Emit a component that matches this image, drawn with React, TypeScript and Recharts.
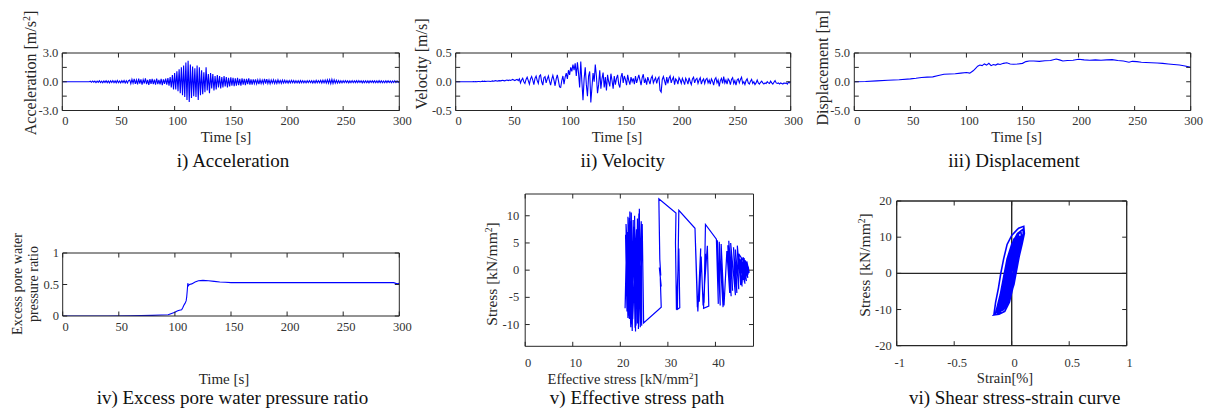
import React from 'react';
import { LineChart, Line, XAxis, YAxis, ReferenceLine } from 'recharts';

const FONT = '"Liberation Serif", "Times New Roman", serif';
const BLUE = '#0000ff';
const INK = '#262626';

// i) acceleration [m/s2], one sample per second, t = 0..300 s
const accStep = 1;
const accValues = [
  0, 0, 0, 0, 0, 0, 0, 0, 0, 0,
  0, 0, 0, 0, 0, 0, 0, 0, 0, 0,
  0, 0, 0, 0, 0, 0.05, -0.06, 0.08, -0.05, 0.07,
  -0.09, 0.06, -0.07, 0.1, -0.08, 0.06, -0.1, 0.09, -0.07, 0.11,
  -0.09, 0.08, -0.12, 0.1, -0.08, 0.12, -0.1, 0.09, -0.11, 0.13,
  -0.1, 0.08, -0.12, 0.11, -0.09, 0.14, -0.12, 0.1, -0.13, 0.12,
  0.18, -0.2, 0.25, -0.15, 0.3, -0.22, 0.2, -0.28, 0.32, -0.2,
  0.24, -0.3, 0.22, -0.18, 0.35, -0.25, 0.2, -0.32, 0.28, -0.22,
  0.3, -0.26, 0.22, -0.3, 0.34, -0.24, 0.2, -0.28, 0.3, -0.35,
  0.26, -0.22, 0.32, -0.3, 0.38, -0.4, 0.5, -0.6, 0.7, -0.8,
  0.9, -0.8, 1.1, -1.0, 1.3, -1.2, 1.5, -1.4, 1.7, -1.6,
  2.0, -1.9, 2.2, -2.1, 1.8, -1.7, 1.6, -1.5, 1.4, -1.6,
  1.7, -1.9, 1.5, -1.4, 1.2, -1.3, 1.0, -1.1, 1.5, -0.9,
  0.8, -1.2, 0.9, -0.7, 0.8, -0.9, 0.6, -0.8, 0.7, -0.6,
  0.6, -0.7, 0.5, -0.6, 0.6, -0.5, 0.5, -0.6, 0.4, -0.5,
  0.45, -0.4, 0.4, -0.45, 0.35, -0.4, 0.4, -0.35, 0.3, -0.4,
  0.35, -0.3, 0.3, -0.35, 0.3, -0.25, 0.35, -0.3, 0.25, -0.3,
  0.25, -0.2, 0.25, -0.22, 0.2, -0.25, 0.22, -0.2, 0.18, -0.2,
  0.3, -0.2, 0.28, -0.18, 0.2, -0.22, 0.18, -0.15, 0.2, -0.18,
  0.15, -0.18, 0.2, -0.15, 0.14, -0.16, 0.18, -0.14, 0.15, -0.13,
  0.12, -0.14, 0.13, -0.12, 0.15, -0.11, 0.12, -0.13, 0.1, -0.12,
  0.11, -0.12, 0.13, -0.1, 0.12, -0.11, 0.1, -0.12, 0.11, -0.1,
  0.12, -0.1, 0.11, -0.13, 0.1, -0.12, 0.14, -0.1, 0.12, -0.11,
  0.15, -0.13, 0.16, -0.12, 0.18, -0.15, 0.2, -0.16, 0.22, -0.2,
  0.25, -0.18, 0.2, -0.15, 0.16, -0.14, 0.12, -0.13, 0.1, -0.12,
  0.11, -0.1, 0.12, -0.09, 0.1, -0.11, 0.09, -0.1, 0.12, -0.1,
  0.1, -0.09, 0.11, -0.1, 0.12, -0.08, 0.1, -0.11, 0.09, -0.1,
  0.1, -0.1, 0.09, -0.11, 0.1, -0.08, 0.11, -0.09, 0.1, -0.1,
  0.09, -0.1, 0.11, -0.09, 0.1, -0.1, 0.08, -0.1, 0.1, -0.09,
  0.1, -0.08, 0.09, -0.1, 0.08, -0.09, 0.1, -0.08, 0.09, -0.07,
  0.05,
];

// ii) velocity [m/s], one sample per second, t = 0..300 s
const velStep = 1;
const velValues = [
  0, 0, 0, 0, 0, 0, 0, 0, 0, 0,
  0, 0, 0, 0, 0, 0, 0.005, 0, 0.005, 0,
  0.005, 0.005, 0, 0.005, 0.01, 0.005, 0.01, 0.005, 0.01, 0.01,
  0.01, 0.005, 0.01, 0.015, 0.01, 0.015, 0.02, 0.01, 0.015, 0.02,
  0.015, 0.02, 0.025, 0.02, 0.015, 0.025, 0.03, 0.02, 0.03, 0.025,
  0.03, 0.04, 0.03, 0.02, 0.035, 0.04, 0.02, 0.05, -0.02, 0.03,
  0.06, 0.0, -0.03, 0.04, 0.08, 0.02, -0.04, 0.05, 0.09, 0.03,
  -0.05, 0.06, 0.1, 0.02, -0.03, 0.1, 0.12, 0.0, -0.06, 0.07,
  0.09, -0.02, 0.05, 0.1, 0.01, -0.06, 0.04, 0.11, 0.03, -0.07,
  0.05, 0.12, 0.02, -0.09, -0.1, 0.02, 0.1, -0.04, 0.08, 0.15,
  0.05, 0.2, 0.12, 0.25, 0.18, 0.3, 0.2, 0.32, 0.1, 0.34,
  0.15, -0.1, 0.35, 0.0, -0.32, 0.05, 0.25, -0.05, -0.25, 0.1,
  0.18, -0.36, -0.1, 0.15, 0.0, 0.3, 0.1, -0.2, -0.05, 0.2,
  -0.12, 0.05, 0.16, -0.1, 0.08, -0.15, 0.12, 0.0, -0.08, 0.14,
  0.02, -0.12, 0.1, -0.05, 0.06, 0.12, -0.04, -0.1, 0.08, 0.15,
  -0.02, 0.1, 0.04, -0.06, 0.12, 0.02, -0.05, 0.08, 0.0, 0.06,
  -0.04, 0.1, -0.02, 0.05, 0.12, 0.03, -0.06, 0.07, 0.13, -0.02,
  0.04, -0.05, 0.08, 0.02, -0.04, 0.06, 0.1, -0.02, 0.03, 0.07,
  -0.03, 0.05, 0.08, -0.15, -0.18, 0.04, 0.09, 0.02, -0.06, 0.08,
  -0.03, 0.06, 0.1, -0.02, 0.04, 0.08, -0.05, 0.05, 0.02, -0.04,
  0.07, 0.03, -0.03, 0.06, 0.01, -0.05, 0.06, 0.02, -0.04, 0.07,
  0.0, -0.05, 0.05, 0.08, -0.02, 0.04, 0.06, -0.03, 0.03, 0.07,
  -0.04, 0.02, 0.05, -0.03, 0.04, 0.06, -0.02, 0.03, -0.04, 0.05,
  0.01, -0.06, 0.04, 0.07, -0.02, 0.03, -0.08, 0.02, 0.06, -0.03,
  0.09, -0.02, 0.03, -0.04, 0.05, 0.02, -0.05, 0.04, 0.07, -0.03,
  0.02, -0.06, 0.03, 0.05, -0.02, 0.04, 0.08, -0.03, 0.0, -0.05,
  0.02, 0.05, -0.02, -0.04, 0.01, 0.04, -0.03, 0.0, -0.05, -0.02,
  0.03, -0.02, -0.04, -0.01, 0.01, -0.02, -0.04, -0.02, -0.03, 0.0,
  -0.02, -0.03, 0.01, -0.02, -0.04, -0.01, 0.02, -0.02, -0.03, -0.02,
  -0.04, -0.02, -0.03, -0.04, -0.02, -0.03, -0.02, -0.04, -0.01, -0.02,
  0.0,
];

// iii) displacement [m]
const dispTimes = [
  0, 10, 20, 30, 40, 50, 55, 60, 65, 70, 75, 80, 85, 90, 95, 100,
  103, 106, 108, 110, 112, 114, 116, 118, 120, 122, 124, 126, 128, 130,
  133, 136, 139, 142, 146, 150, 153, 156, 160, 165, 170, 175, 180,
  183, 186, 190, 195, 200, 205, 210, 215, 220, 225, 230, 235, 240,
  245, 248, 252, 256, 260, 265, 270, 275, 280, 285, 290, 295, 300,
];
const dispValues = [
  0, 0.05, 0.15, 0.25, 0.35, 0.5, 0.6, 0.75, 0.8, 0.85, 1.1, 1.3, 1.35, 1.4, 1.5, 1.6,
  1.5, 1.9, 2.3, 2.7, 2.9, 2.8, 3.1, 2.9, 3.2, 2.8, 3.0, 2.9, 3.1, 3.0,
  3.2, 3.3, 3.1, 3.05, 3.1, 3.2, 3.5, 3.6, 3.6, 3.55, 3.65, 3.7, 3.95,
  3.8, 3.6, 3.7, 3.75, 3.9, 3.8, 3.75, 3.8, 3.75, 3.8, 3.85, 3.7, 3.6,
  3.4, 3.55, 3.5, 3.4, 3.35, 3.3, 3.25, 3.2, 3.1, 3.0, 2.9, 2.75, 2.5,
];

// iv) excess pore water pressure ratio
const poreTimes = [
  0, 20, 40, 60, 70, 80, 88, 94, 97, 100,
  102, 104, 106, 107, 108, 109, 110, 110.5, 111, 111.5,
  112, 113, 115, 118, 121, 125, 130, 135, 140, 145,
  150, 200, 250, 295, 298, 300,
];
const poreValues = [
  0, 0, 0, 0.003, 0.006, 0.01, 0.015, 0.02, 0.04, 0.06,
  0.08, 0.09, 0.1, 0.13, 0.17, 0.2, 0.24, 0.3, 0.4, 0.52,
  0.48, 0.5, 0.51, 0.54, 0.56, 0.565, 0.56, 0.55, 0.54, 0.535,
  0.53, 0.53, 0.53, 0.53, 0.51, 0.52,
];

// v) effective stress path: [effective stress, shear stress] in kN/mm2
const stressPath: [number, number][] = [
  [47.0, 0.0], [46.6, 1.2], [46.9, -0.8], [46.3, 1.8], [46.8, -1.4], [46.0, 2.2], [46.5, -2.0],
  [45.7, 1.6], [46.2, -2.5], [45.4, 2.3], [45.9, -1.8], [45.2, 2.0], [45.6, -3.0], [44.9, 3.0],
  [46.4, 1.0], [46.7, -1.2], [45.8, 2.4], [46.1, -2.2], [45.5, 1.4], [46.9, 0.6], [47.1, -0.5],
  [46.6, 1.6], [46.3, -1.7], [45.9, 1.9], [45.6, -2.4], [45.3, -2.6], [44.6, 4.5], [44.9, -3.5],
  [44.2, 3.8], [44.5, -4.2], [43.8, 4.2], [44.2, -4.6], [43.2, 5.0], [43.6, -3.8], [42.8, 5.4],
  [43.3, -4.8], [42.6, 4.6], [43.0, -4.2], [42.4, 3.5], [41.8, -6.5], [41.2, 4.8], [41.6, -6.8],
  [40.8, 5.2], [41.0, -6.5], [40.4, 5.5], [40.6, -6.2], [40.2, 5.7], [37.9, 8.4], [37.6, -6.0],
  [37.9, 3.0], [37.5, -7.0], [38.6, -6.6], [38.3, 4.5], [37.4, -6.5], [37.0, 2.5], [36.6, -5.8],
  [36.9, 4.0], [36.3, -7.6], [35.8, 5.0], [36.2, -6.8], [35.7, 7.7], [32.3, 11.0], [32.0, -7.2],
  [32.5, -6.9], [32.3, 4.0], [31.8, -7.3], [31.6, 5.0], [31.7, 10.5], [28.1, 13.1], [28.3, 2.0],
  [28.5, -1.0], [28.2, 0.5], [28.6, -3.0], [28.4, -1.5], [28.6, -6.8], [24.9, -9.7], [24.6, 8.5],
  [24.2, -10.5], [24.0, 11.3], [23.8, -10.8], [24.4, 9.0], [24.5, -10.2], [23.9, 10.4], [23.6, -9.8],
  [23.6, 9.5], [23.3, -10.2], [23.0, 10.0], [23.2, -11.3], [22.8, 8.0], [22.5, -11.2], [22.3, 10.6],
  [22.6, -9.0], [23.4, 7.5], [23.1, -10.6], [22.7, 9.2], [22.4, -10.0], [22.0, 10.8], [21.9, -9.0],
  [21.6, 9.8], [21.8, -8.4], [22.1, 9.0], [22.3, -9.6], [21.2, 8.5], [21.4, -7.6], [21.1, 6.5],
  [21.6, -8.8], [21.9, 9.6], [22.2, -10.5], [21.5, 7.0], [21.0, -7.0], [21.3, 5.0], [21.7, -6.0],
  [22.0, 4.0], [21.5, -3.0], [21.8, 2.0], [22.0, 0.5],
];

// vi) shear stress-strain loops: [strain %, stress kN/mm2]
const stressStrain: [number, number][] = [
  [-0.155, -11.5], [-0.14, -8], [-0.115, -4], [-0.095, 0], [-0.07, 4], [-0.04, 8], [0.0, 10.5],
  [0.06, 12.5], [0.105, 13.0], [0.11, 11], [0.09, 8], [0.06, 4], [0.035, 0], [0.01, -4],
  [-0.02, -8], [-0.06, -10.5], [-0.11, -11.3], [-0.155, -11.5],
  [-0.14, -11], [-0.1, -6], [-0.07, -1], [-0.04, 4], [0.0, 8], [0.05, 11], [0.1, 12.2], [0.1, 10],
  [0.08, 7], [0.05, 3], [0.02, -2], [-0.02, -7], [-0.07, -10], [-0.14, -11],
  [-0.13, -10.5], [-0.09, -5], [-0.06, 0], [-0.03, 5], [0.02, 9.5], [0.08, 11.5], [0.09, 9],
  [0.06, 4], [0.03, -1], [0.0, -5], [-0.05, -9], [-0.13, -10.5],
  [-0.12, -10], [-0.085, -5.5], [-0.055, -0.5], [-0.025, 4.5], [0.015, 8.5], [0.06, 10.5], [0.075, 8.5],
  [0.05, 4], [0.025, -0.5], [-0.005, -5], [-0.06, -9], [-0.12, -10],
  [-0.11, -10], [-0.07, -5], [-0.045, 0], [-0.02, 5], [0.02, 8.5], [0.07, 10], [0.06, 6],
  [0.04, 2], [0.01, -3], [-0.03, -7], [-0.11, -10],
  [-0.105, -11], [-0.075, -7], [-0.05, -2], [-0.02, 3], [0.01, 7], [0.05, 9], [0.055, 6.5],
  [0.035, 2.5], [0.005, -2.5], [-0.03, -7], [-0.105, -11],
  [-0.1, -9], [-0.06, -4], [-0.035, 1], [-0.01, 5], [0.03, 8], [0.065, 9], [0.05, 5],
  [0.02, 0], [-0.01, -4], [-0.05, -7.5], [-0.1, -9],
  [-0.1, -10.5], [-0.06, -6], [-0.03, -2], [0.0, 2], [0.04, 7], [0.08, 10], [0.085, 8],
  [0.055, 3], [0.02, -3], [-0.03, -8], [-0.1, -10.5],
  [-0.095, -9.5], [-0.065, -5.5], [-0.04, -1], [-0.015, 3.5], [0.02, 7], [0.045, 7.5], [0.03, 3.5],
  [0.01, -1], [-0.02, -5], [-0.095, -9.5],
  [-0.09, -8], [-0.05, -3], [-0.025, 1.5], [0.0, 6], [0.04, 8.5], [0.06, 7], [0.03, 2],
  [0.0, -2], [-0.04, -6], [-0.09, -8],
  [-0.08, -10], [-0.04, -4], [-0.02, 0], [0.01, 5], [0.05, 9.5], [0.07, 8], [0.04, 3],
  [0.02, -1], [-0.02, -6], [-0.08, -10],
  [-0.12, -11], [-0.08, -6], [-0.05, -1], [-0.02, 4], [0.03, 9], [0.09, 10.5], [0.07, 6],
  [0.04, 1], [0.01, -4], [-0.04, -9], [-0.12, -11],
  [-0.075, -8.5], [-0.045, -4], [-0.02, 0.5], [0.005, 4.5], [0.035, 7], [0.04, 4.5], [0.015, 0.5],
  [-0.015, -4], [-0.075, -8.5],
  [-0.06, -7], [-0.03, -2], [0.0, 3], [0.03, 7], [0.05, 6], [0.03, 1], [0.0, -3], [-0.06, -7],
  [-0.065, -6], [-0.035, -1], [-0.01, 3], [0.02, 5.5], [0.03, 3], [0.005, -1.5], [-0.065, -6],
  [-0.05, -5], [-0.02, 0], [0.01, 4], [0.04, 6], [0.02, 1], [-0.01, -3], [-0.05, -5],
  [-0.04, -4], [-0.015, 0], [0.01, 2.5], [0.015, 0.5], [-0.04, -4],
  [-0.085, -9], [-0.055, -5], [-0.03, -0.5], [-0.005, 3.5], [0.025, 6.5], [0.05, 8], [0.045, 5.5],
  [0.02, 1.5], [-0.005, -2.5], [-0.045, -7], [-0.085, -9],
  [-0.07, -9.5], [-0.04, -5.5], [-0.015, -1.5], [0.015, 3], [0.045, 7.5], [0.06, 9.5], [0.055, 6.5],
  [0.035, 2.5], [0.005, -2], [-0.03, -6.5], [-0.07, -9.5],
];

const timeTicks = [0, 50, 100, 150, 200, 250, 300];
const accTicks = [-3, -1.5, 0, 1.5, 3];
const velTicks = [-0.5, -0.25, 0, 0.25, 0.5];
const dispTicks = [-5, -2.5, 0, 2.5, 5];
const poreTicks = [0, 0.5, 1];
const effTicks = [0, 10, 20, 30, 40];
const shearTicks = [-10, -5, 0, 5, 10];
const strainTicks = [-1, -0.5, 0, 0.5, 1];
const stressTicks = [-20, -10, 0, 10, 20];

const accData = accValues.map((y, i) => ({ x: i * accStep, y }));
const velData = velValues.map((y, i) => ({ x: i * velStep, y }));
const dispData = dispTimes.map((x, i) => ({ x, y: dispValues[i] }));
const poreData = poreTimes.map((x, i) => ({ x, y: poreValues[i] }));
const pathData = stressPath.map(([x, y]) => ({ x, y }));
const loopData = stressStrain.map(([x, y]) => ({ x, y }));

const plain = (v: number) => String(v);
const fmt1 = (edges: number[]) => (v: number) => (edges.includes(v) ? v.toFixed(1) : '');

type Side = 'bottom' | 'top' | 'left' | 'right';
const TICK = 4.5;

function makeTick(side: Side, fmt?: (v: number) => string, gap = 10) {
  return (p: any) => {
    const { x, y, payload } = p;
    const label = fmt ? fmt(payload.value) : '';
    let line;
    if (side === 'bottom') line = <line x1={x} y1={y} x2={x} y2={y - TICK} stroke={INK} />;
    else if (side === 'top') line = <line x1={x} y1={y} x2={x} y2={y + TICK} stroke={INK} />;
    else if (side === 'left') line = <line x1={x} y1={y} x2={x + TICK} y2={y} stroke={INK} />;
    else line = <line x1={x} y1={y} x2={x - TICK} y2={y} stroke={INK} />;
    return (
      <g>
        {line}
        {label && side === 'bottom' && (
          <text x={x + 3} y={y + gap} textAnchor="middle" dominantBaseline="central"
            fontFamily={FONT} fontSize={12.5} fill="#333">{label}</text>
        )}
        {label && side === 'left' && (
          <text x={x - gap} y={y} textAnchor="end" dominantBaseline="central"
            fontFamily={FONT} fontSize={12.5} fill="#333">{label}</text>
        )}
      </g>
    );
  };
}

type Rect = { left: number; top: number; right: number; bottom: number };

function Panel(props: {
  frame: Rect; plot: Rect; data: { x: number; y: number }[];
  xDomain: [number, number]; yDomain: [number, number];
  xTicks: number[]; yTicks: number[];
  xFmt: (v: number) => string; yFmt: (v: number) => string;
  xGap: number; yGap: number; zero?: boolean; frameWidth?: number; lineWidth?: number;
}) {
  const { frame, plot, data, xDomain, yDomain, xTicks, yTicks, xFmt, yFmt, xGap, yGap, zero } = props;
  const axisLine = { stroke: INK, strokeWidth: props.frameWidth ?? 1 };
  const common = { tickSize: 0, tickMargin: 0, tickLine: false, interval: 0 as const, allowDataOverflow: true, axisLine };
  return (
    <div style={{ position: 'absolute', left: frame.left, top: frame.top }}>
      <LineChart width={frame.right - frame.left} height={frame.bottom - frame.top} data={data}
        margin={{ top: 0, right: 0, bottom: 0, left: 0 }}>
        <XAxis xAxisId="b" orientation="bottom" type="number" dataKey="x" domain={xDomain} ticks={xTicks}
          height={frame.bottom - plot.bottom} tick={makeTick('bottom', xFmt, xGap)} {...common} />
        <XAxis xAxisId="t" orientation="top" type="number" dataKey="x" domain={xDomain} ticks={xTicks}
          height={plot.top - frame.top} tick={makeTick('top')} {...common} />
        <YAxis yAxisId="l" orientation="left" type="number" dataKey="y" domain={yDomain} ticks={yTicks}
          width={plot.left - frame.left} tick={makeTick('left', yFmt, yGap)} {...common} />
        <YAxis yAxisId="r" orientation="right" type="number" dataKey="y" domain={yDomain} ticks={yTicks}
          width={frame.right - plot.right} tick={makeTick('right')} {...common} />
        {zero && <ReferenceLine xAxisId="b" yAxisId="l" x={0} stroke={INK} strokeWidth={1.4} />}
        {zero && <ReferenceLine xAxisId="b" yAxisId="l" y={0} stroke={INK} strokeWidth={1.4} />}
        <Line xAxisId="b" yAxisId="l" type="linear" dataKey="y" stroke={BLUE} strokeWidth={props.lineWidth ?? 1.1}
          dot={false} activeDot={false} isAnimationActive={false} />
      </LineChart>
    </div>
  );
}

function Txt({ x, y, size, rot, color = '#262626', children }: {
  x: number; y: number; size: number; rot?: boolean; color?: string; children: React.ReactNode;
}) {
  return (
    <div style={{
      position: 'absolute', left: x, top: y, fontFamily: FONT, fontSize: size, lineHeight: 1.15,
      whiteSpace: 'nowrap', color, textAlign: 'center',
      transform: `translate(-50%, -50%)${rot ? ' rotate(-90deg)' : ''}`,
    }}>{children}</div>
  );
}

const Sup = ({ children }: { children: React.ReactNode }) => (
  <span style={{ fontSize: '0.62em', verticalAlign: '0.55em', lineHeight: 0 }}>{children}</span>
);

export default function App() {
  return (
    <div style={{ position: 'absolute', left: 0, top: 0, width: 1216, height: 415, background: '#fff', overflow: 'hidden' }}>
      <Panel frame={{ left: 30, top: 45, right: 416, bottom: 132 }} plot={{ left: 62.3, top: 53, right: 399.3, bottom: 110.5 }}
        data={accData} xDomain={[0, 300]} yDomain={[-3, 3]} xTicks={timeTicks} yTicks={accTicks}
        xFmt={plain} yFmt={fmt1([-3, 0, 3])} xGap={10} yGap={4} />
      <Panel frame={{ left: 425, top: 45, right: 810, bottom: 132 }} plot={{ left: 455.7, top: 53, right: 790.7, bottom: 110.5 }}
        data={velData} xDomain={[0, 300]} yDomain={[-0.5, 0.5]} xTicks={timeTicks} yTicks={velTicks}
        xFmt={plain} yFmt={fmt1([-0.5, 0, 0.5])} xGap={10} yGap={4} />
      <Panel frame={{ left: 820, top: 45, right: 1212, bottom: 132 }} plot={{ left: 854.3, top: 53, right: 1190.7, bottom: 110.5 }}
        data={dispData} xDomain={[0, 300]} yDomain={[-5, 5]} xTicks={timeTicks} yTicks={dispTicks}
        xFmt={plain} yFmt={fmt1([-5, 0, 5])} xGap={10} yGap={4.3} />
      <Panel frame={{ left: 30, top: 245, right: 416, bottom: 335 }} plot={{ left: 62.7, top: 253, right: 399.3, bottom: 316 }}
        data={poreData} xDomain={[0, 300]} yDomain={[0, 1]} xTicks={timeTicks} yTicks={poreTicks}
        xFmt={plain} yFmt={plain} xGap={10.7} yGap={3.7} />
      <Panel frame={{ left: 495, top: 185, right: 765, bottom: 372 }} plot={{ left: 525.2, top: 194, right: 753.5, bottom: 346.3 }}
        data={pathData} xDomain={[0, 48]} yDomain={[-14, 14]} xTicks={effTicks} yTicks={shearTicks}
        xFmt={plain} yFmt={plain} xGap={17} yGap={6} lineWidth={1.2} />
      <Panel frame={{ left: 860, top: 192, right: 1140, bottom: 372 }} plot={{ left: 896.7, top: 201, right: 1126.7, bottom: 345.7 }}
        data={loopData} xDomain={[-1, 1]} yDomain={[-20, 20]} xTicks={strainTicks} yTicks={stressTicks}
        xFmt={plain} yFmt={plain} xGap={17.6} yGap={5} zero frameWidth={1.3} lineWidth={1.6} />

      <Txt x={31} y={72.5} size={16} rot>Acceleration [m/s<Sup>2</Sup>]</Txt>
      <Txt x={421.5} y={64} size={16} rot>Velocity [m/s]</Txt>
      <Txt x={822.5} y={68} size={16} rot>Displacement [m]</Txt>
      <Txt x={25.7} y={284} size={14} rot><div>Excess pore water</div><div>pressure ratio</div></Txt>
      <Txt x={491.7} y={274} size={15.5} rot>Stress [kN/mm<Sup>2</Sup>]</Txt>
      <Txt x={865} y={264.5} size={15.5} rot>Stress [kN/mm<Sup>2</Sup>]</Txt>

      <Txt x={226} y={138} size={15}>Time [s]</Txt>
      <Txt x={617} y={138} size={15}>Time [s]</Txt>
      <Txt x={1016.7} y={138} size={15}>Time [s]</Txt>
      <Txt x={224} y={380} size={15}>Time [s]</Txt>
      <Txt x={623} y={379} size={14.5}>Effective stress [kN/mm<Sup>2</Sup>]</Txt>
      <Txt x={1005} y={378.3} size={14.5}>Strain[%]</Txt>

      <Txt x={233} y={160.7} size={19} color="#111">i) Acceleration</Txt>
      <Txt x={622.7} y={160.7} size={19} color="#111">ii) Velocity</Txt>
      <Txt x={1014} y={160.7} size={19} color="#111">iii) Displacement</Txt>
      <Txt x={232.5} y={398} size={19} color="#111">iv) Excess pore water pressure ratio</Txt>
      <Txt x={637} y={398} size={19} color="#111">v) Effective stress path</Txt>
      <Txt x={1014.7} y={398} size={19} color="#111">vi) Shear stress-strain curve</Txt>
    </div>
  );
}
